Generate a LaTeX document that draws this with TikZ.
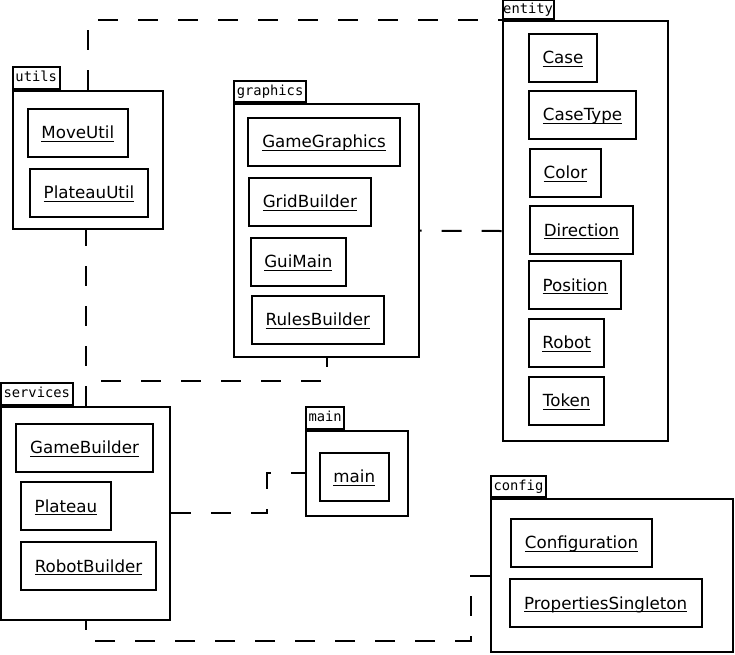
\documentclass[tikz,border=0pt]{standalone}
\usepackage{fontspec}
\setmainfont{DejaVu Sans}
\newfontfamily\tabfont{DejaVu Sans Mono}
\newcommand{\ulname}[1]{\setbox0\hbox{#1}\rlap{\rule[-3pt]{\wd0}{1pt}}\box0}
\begin{document}
\begin{tikzpicture}[x=1pt, y=-1pt, line width=2pt,
  pkg/.style={draw, rectangle, inner sep=0pt},
  pkgtab/.style={draw, rectangle, anchor=south west, minimum height=21.5pt, inner xsep=2.5pt, inner ysep=0pt, font=\tabfont\fontsize{13.8}{14}\selectfont, text height=10pt, text depth=2.5pt},
  cls/.style={draw, rectangle, minimum height=48pt, inner sep=0pt, font=\fontsize{16.7}{18}\selectfont, text height=13pt, text depth=1pt},
  dep/.style={dash pattern=on 20pt off 20pt}]
\useasboundingbox (0,0) rectangle (735,654);
\node[pkg, minimum width=150pt, minimum height=138.3pt] (utils) at (88,159.8){};
\node[pkgtab] (utilsTab) at (utils.north west){utils};
\node[cls, minimum width=100pt] (MoveUtil) at (77.8,132.7){\ulname{MoveUtil}};
\node[cls, minimum width=118pt] (PlateauUtil) at (89,192.7){\ulname{PlateauUtil}};
\node[pkg, minimum width=184.7pt, minimum height=253.3pt] (graphics) at (326.7,230.7){};
\node[pkgtab] (graphicsTab) at (graphics.north west){graphics};
\node[cls, minimum width=152.6pt] (GameGraphics) at (324,141.7){\ulname{GameGraphics}};
\node[cls, minimum width=122.3pt] (GridBuilder) at (309.8,201.8){\ulname{GridBuilder}};
\node[cls, minimum width=95.3pt] (GuiMain) at (298.3,261.8){\ulname{GuiMain}};
\node[cls, minimum width=132.3pt] (RulesBuilder) at (317.8,319.7){\ulname{RulesBuilder}};
\node[pkg, minimum width=165.6pt, minimum height=420pt] (entity) at (585.5,231){};
\node[pkgtab, minimum height=19.5pt, inner xsep=0.5pt] (entityTab) at (entity.north west){entity};
\node[cls, minimum width=68.6pt] (Case) at (563,57.7){\ulname{Case}};
\node[cls, minimum width=107.6pt] (CaseType) at (582.5,114.8){\ulname{CaseType}};
\node[cls, minimum width=71.6pt] (Color) at (565.5,172.8){\ulname{Color}};
\node[cls, minimum width=103pt] (Direction) at (581.5,230){\ulname{Direction}};
\node[cls, minimum width=92.3pt] (Position) at (575.2,285){\ulname{Position}};
\node[cls, minimum width=75.3pt] (Robot) at (566.7,342.8){\ulname{Robot}};
\node[cls, minimum width=75.3pt] (Token) at (566.7,400.8){\ulname{Token}};
\node[pkg, minimum width=169.3pt, minimum height=213.3pt] (services) at (85.7,513.3){};
\node[pkgtab] (servicesTab) at (services.north west){services};
\node[cls, minimum width=137.6pt] (GameBuilder) at (84.5,447.7){\ulname{GameBuilder}};
\node[cls, minimum width=90.6pt] (Plateau) at (66,506){\ulname{Plateau}};
\node[cls, minimum width=135.6pt] (RobotBuilder) at (88.5,566){\ulname{RobotBuilder}};
\node[pkg, minimum width=102pt, minimum height=85pt] (main) at (357,473.2){};
\node[pkgtab] (mainTab) at (main.north west){main};
\node[cls, minimum width=69.3pt] (mainCls) at (354.3,476.8){\ulname{main}};
\node[pkg, minimum width=242pt, minimum height=152.4pt] (config) at (612,575.5){};
\node[pkgtab] (configTab) at (config.north west){config};
\node[cls, minimum width=141.6pt] (Configuration) at (581.5,542.8){\ulname{Configuration}};
\node[cls, minimum width=192pt] (PropertiesSingleton) at (605.7,603.3){\ulname{PropertiesSingleton}};
\coordinate (sgBend) at (85.7,381);
\coordinate (smBend) at (266.7,494);
\coordinate (scBend) at (470.7,640.5);
\draw[dep] (utils.north) |- (entity.north west);
\draw[dep] (services.north) -- (services.north |- utils.south);
\draw[dep] (services.north) -- (sgBend) -| (graphics.south);
\draw[dep] (entity.west) -- (graphics.east);
\draw[dep] (services.east) -| (smBend) |- (main.west);
\draw[dep] (config.west) -| (scBend) -| (services.south);
\end{tikzpicture}
\end{document}
